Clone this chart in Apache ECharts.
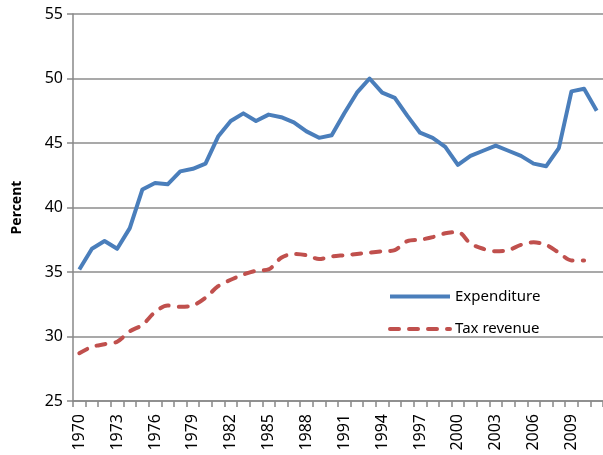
<!DOCTYPE html>
<html>
<head>
<meta charset="utf-8">
<script src="https://cdn.jsdelivr.net/npm/echarts@6/dist/echarts.min.js"></script>
<style>html,body{margin:0;padding:0;background:#fff;}#c{width:603px;height:455px;}</style>
</head>
<body>
<div id="c"></div>
<script>
var years = [];
for (var y = 1970; y <= 2011; y++) years.push(String(y));
var expenditure = [35.2, 36.8, 37.4, 36.8, 38.4, 41.4, 41.9, 41.8, 42.8, 43.0,
  43.4, 45.5, 46.7, 47.3, 46.7, 47.2, 47.0, 46.6, 45.9, 45.4,
  45.6, 47.3, 48.9, 50.0, 48.9, 48.5, 47.1, 45.8, 45.4, 44.7,
  43.3, 44.0, 44.4, 44.8, 44.4, 44.0, 43.4, 43.2, 44.6, 49.0,
  49.2, 47.5];
var taxRevenue = [28.7, 29.2, 29.4, 29.6, 30.4, 30.9, 31.9, 32.4, 32.3, 32.4,
  33.0, 33.9, 34.4, 34.8, 35.1, 35.2, 36.1, 36.4, 36.3, 36.0,
  36.2, 36.3, 36.4, 36.5, 36.6, 36.7, 37.4, 37.5, 37.7, 38.0,
  38.1, 37.2, 36.8, 36.6, 36.7, 37.1, 37.3, 37.1, 36.5, 35.9,
  35.9, null];
var seriesNames = ['Expenditure', 'Tax revenue'];
var yTicks = {min: 25, max: 55, interval: 5};

var FONT = 'Noto Sans';
var chart = echarts.init(document.getElementById('c'), null, {renderer: 'canvas'});
chart.setOption({
  animation: false,
  backgroundColor: '#fff',
  grid: {left: 73, top: 14, width: 536, height: 387},
  legend: {
    orient: 'vertical', left: 383, top: 284,
    itemWidth: 60, itemHeight: 14, itemGap: 17.5,
    itemStyle: {opacity: 0, borderWidth: 0},
    lineStyle: {width: 4},
    textStyle: {fontFamily: FONT, fontSize: 15, color: '#000'},
    data: seriesNames
  },
  xAxis: {
    type: 'category', data: years, boundaryGap: true,
    axisLine: {lineStyle: {color: '#888', width: 1.5}},
    axisTick: {show: true, interval: 0, length: 6, lineStyle: {color: '#888', width: 1.5}},
    axisLabel: {interval: 2, rotate: 90, margin: 13, fontFamily: FONT, fontSize: 16, color: '#000'},
    splitLine: {show: false}
  },
  yAxis: {
    type: 'value', min: yTicks.min, max: yTicks.max, interval: yTicks.interval,
    name: 'Percent', nameLocation: 'middle', nameGap: 49, nameRotate: 90,
    nameTextStyle: {fontFamily: FONT, fontSize: 14, fontWeight: 'bold', color: '#000'},
    axisLine: {show: true, lineStyle: {color: '#888', width: 1.5}},
    axisTick: {show: true, length: 6, lineStyle: {color: '#888', width: 1.5}},
    axisLabel: {margin: 10, fontFamily: FONT, fontSize: 16, color: '#000'},
    splitLine: {show: true, lineStyle: {color: '#8c8c8c', width: 1.5}}
  },
  series: [
    {name: seriesNames[0], type: 'line', data: expenditure, symbol: 'none',
     lineStyle: {color: '#4a7ebb', width: 4, cap: 'butt', join: 'round'},
     itemStyle: {color: '#4a7ebb'}},
    {name: seriesNames[1], type: 'line', data: taxRevenue, symbol: 'none', smooth: 0.3,
     lineStyle: {color: '#c0504d', width: 4, type: [9, 10], cap: 'round', join: 'round'},
     itemStyle: {color: '#c0504d'}}
  ]
});
</script>
</body>
</html>
